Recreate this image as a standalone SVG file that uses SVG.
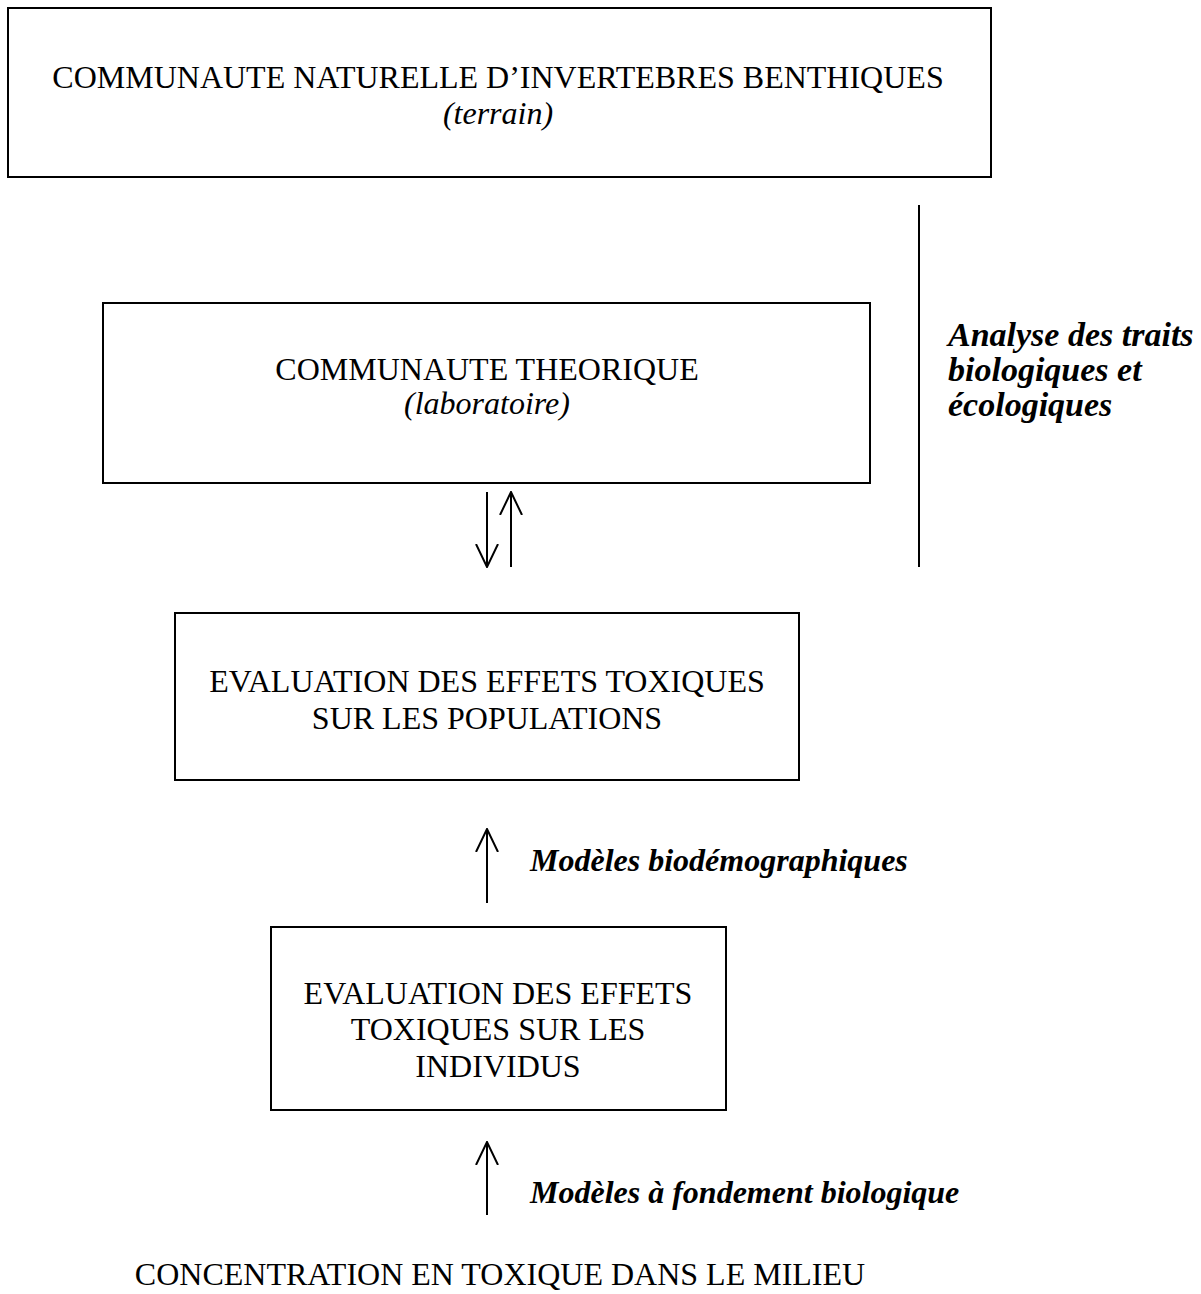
<svg xmlns="http://www.w3.org/2000/svg" width="1201" height="1294" viewBox="0 0 1201 1294">
  <style>
    .box { fill: #ffffff; stroke: #000000; stroke-width: 2; }
    .t { font-family: "Liberation Serif", "Times New Roman", serif; font-size: 32px; fill: #000000; }
    .c { text-anchor: middle; }
    .i { font-style: italic; }
    .bi { font-style: italic; font-weight: bold; }
    .side { font-size: 34px; }
    .ln { stroke: #000000; stroke-width: 2; fill: none; }
  </style>
  <defs>
    <marker id="open" viewBox="0 0 24 24" refX="23" refY="12" markerWidth="24" markerHeight="24" markerUnits="userSpaceOnUse" orient="auto">
      <path d="M0,1 L23,12 L0,23" fill="none" stroke="#000000" stroke-width="2"/>
    </marker>
  </defs>
  <rect width="1201" height="1294" fill="#ffffff"/>

  <g id="node-terrain">
    <rect class="box" x="8" y="8" width="983" height="169"/>
    <text class="t c" x="498" y="88">COMMUNAUTE NATURELLE D’INVERTEBRES BENTHIQUES</text>
    <text class="t c i" x="498" y="124">(terrain)</text>
  </g>

  <g id="node-laboratoire">
    <rect class="box" x="103" y="303" width="767" height="180"/>
    <text class="t c" x="487" y="380">COMMUNAUTE THEORIQUE</text>
    <text class="t c i" x="487" y="414">(laboratoire)</text>
  </g>

  <g id="node-populations">
    <rect class="box" x="175" y="613" width="624" height="167"/>
    <text class="t c" x="487" y="692">EVALUATION DES EFFETS TOXIQUES</text>
    <text class="t c" x="487" y="729">SUR LES POPULATIONS</text>
  </g>

  <g id="node-individus">
    <rect class="box" x="271" y="927" width="455" height="183"/>
    <text class="t c" x="498" y="1004">EVALUATION DES EFFETS</text>
    <text class="t c" x="498" y="1040">TOXIQUES SUR LES</text>
    <text class="t c" x="498" y="1077">INDIVIDUS</text>
  </g>

  <g id="node-concentration">
    <text class="t c" x="500" y="1285">CONCENTRATION EN TOXIQUE DANS LE MILIEU</text>
  </g>

  <g id="connectors">
    <line class="ln" x1="919" y1="205" x2="919" y2="567"/>
    <line class="ln" x1="487" y1="492" x2="487" y2="567" marker-end="url(#open)"/>
    <line class="ln" x1="511" y1="567" x2="511" y2="492" marker-end="url(#open)"/>
    <line class="ln" x1="487" y1="903" x2="487" y2="829" marker-end="url(#open)"/>
    <line class="ln" x1="487" y1="1215" x2="487" y2="1142" marker-end="url(#open)"/>
  </g>

  <g id="labels">
    <text class="t bi side" x="948" y="346">Analyse des traits</text>
    <text class="t bi side" x="948" y="381">biologiques et</text>
    <text class="t bi side" x="948" y="416">écologiques</text>
    <text class="t bi" x="530" y="871">Modèles biodémographiques</text>
    <text class="t bi" x="530" y="1203">Modèles à fondement biologique</text>
  </g>
</svg>
